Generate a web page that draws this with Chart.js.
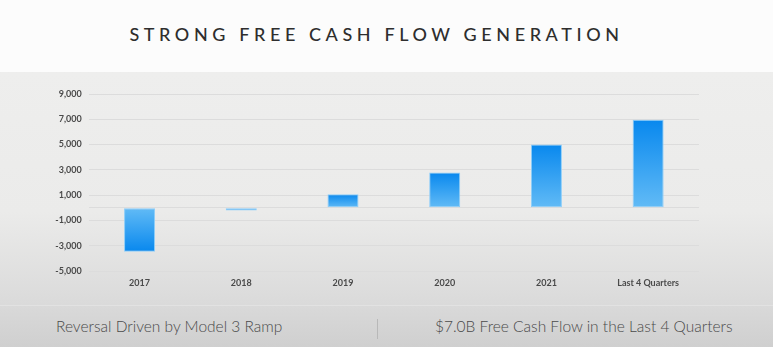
<!DOCTYPE html>
<html>
<head>
<meta charset="utf-8">
<script src="https://cdn.jsdelivr.net/npm/chart.js@4"></script>
<style>
  html, body { margin: 0; padding: 0; }
  body { width: 773px; height: 347px; position: relative; overflow: hidden; background: #fcfcfc; font-family: Lato, "Open Sans", sans-serif; }
  .panel { position: absolute; left: 0; top: 72px; width: 773px; height: 233px; background: linear-gradient(#eeeeed 0%, #ebebea 60%, #dadada 100%); }
  .foot { position: absolute; left: 0; top: 305px; width: 773px; height: 42px; background: linear-gradient(#d9d9d9, #cfcfcf); border-top: 1px solid #e2e2e2; }
  .title { position: absolute; left: -10px; width: 773px; top: 23px; text-align: center; font-size: 18px; letter-spacing: 4.6px; color: #2e2e2e; font-weight: 500; }
  .note { position: absolute; top: 317px; font-size: 15.5px; color: #4a4a4a; font-weight: 300; }
  .sep { position: absolute; left: 377px; top: 319px; width: 1px; height: 20px; background: #b8b8b8; }
  #wrap { position: absolute; left: 0; top: 0; width: 773px; height: 347px; }
</style>
</head>
<body>
<div class="panel"></div>
<div class="foot"></div>
<div class="title">STRONG FREE CASH FLOW GENERATION</div>
<div class="note" style="left:56px">Reversal Driven by Model 3 Ramp</div>
<div class="sep"></div>
<div class="note" style="left:435px">$7.0B Free Cash Flow in the Last 4 Quarters</div>
<div id="wrap"><canvas id="fcf" width="773" height="347"></canvas></div>
<script>
const periods = ["2017", "2018", "2019", "2020", "2021", "Last 4 Quarters"];
const freeCashFlow = [-3477, -222, 1078, 2786, 5015, 6960];
const yTicks = [-5000, -3000, -1000, 0, 1000, 3000, 5000, 7000, 9000];

// degradado de cada barra: claro en el cero, azul fuerte en el extremo
function barGradient(context) {
  const chart = context.chart;
  const area = chart.chartArea;
  if (!area) return "#2a9cf3";
  const y0 = chart.scales.y.getPixelForValue(0);
  const y1 = chart.scales.y.getPixelForValue(context.raw);
  if (Math.abs(y1 - y0) < 1) return "#5db8f5";
  const g = chart.ctx.createLinearGradient(0, y0, 0, y1);
  g.addColorStop(0, "#62bbf6");
  g.addColorStop(1, "#0888ee");
  return g;
}

const tickFont = { family: "Lato, 'Open Sans', sans-serif", size: 9, weight: "bold" };

new Chart(document.getElementById("fcf"), {
  type: "bar",
  data: {
    labels: periods,
    datasets: [{
      data: freeCashFlow,
      backgroundColor: barGradient,
      borderColor: "#8ccdf9",
      borderWidth: 1,
      borderSkipped: false,
      barPercentage: 0.305,
      categoryPercentage: 1
    }]
  },
  options: {
    responsive: false,
    animation: false,
    devicePixelRatio: 1,
    layout: { padding: { left: 0, right: 74, top: 94, bottom: 0 } },
    plugins: { legend: { display: false }, tooltip: { enabled: false } },
    scales: {
      x: {
        grid: { display: false, drawTicks: false },
        border: { display: false },
        ticks: { color: "#4a4a4a", font: tickFont, padding: 7, maxRotation: 0 },
        afterFit: (axis) => { axis.height = 76; }
      },
      y: {
        min: -5000,
        max: 9000,
        afterBuildTicks: (axis) => { axis.ticks = yTicks.map((v) => ({ value: v })); },
        grid: { color: "#dcdcdc", lineWidth: 1, drawTicks: false },
        border: { display: false },
        ticks: {
          color: "#4a4a4a",
          font: tickFont,
          padding: 7,
          callback: (v) => (v === 0 ? "" : v.toLocaleString("en-US"))
        },
        afterFit: (axis) => { axis.width = 88.7; }
      }
    }
  }
});
</script>
</body>
</html>
